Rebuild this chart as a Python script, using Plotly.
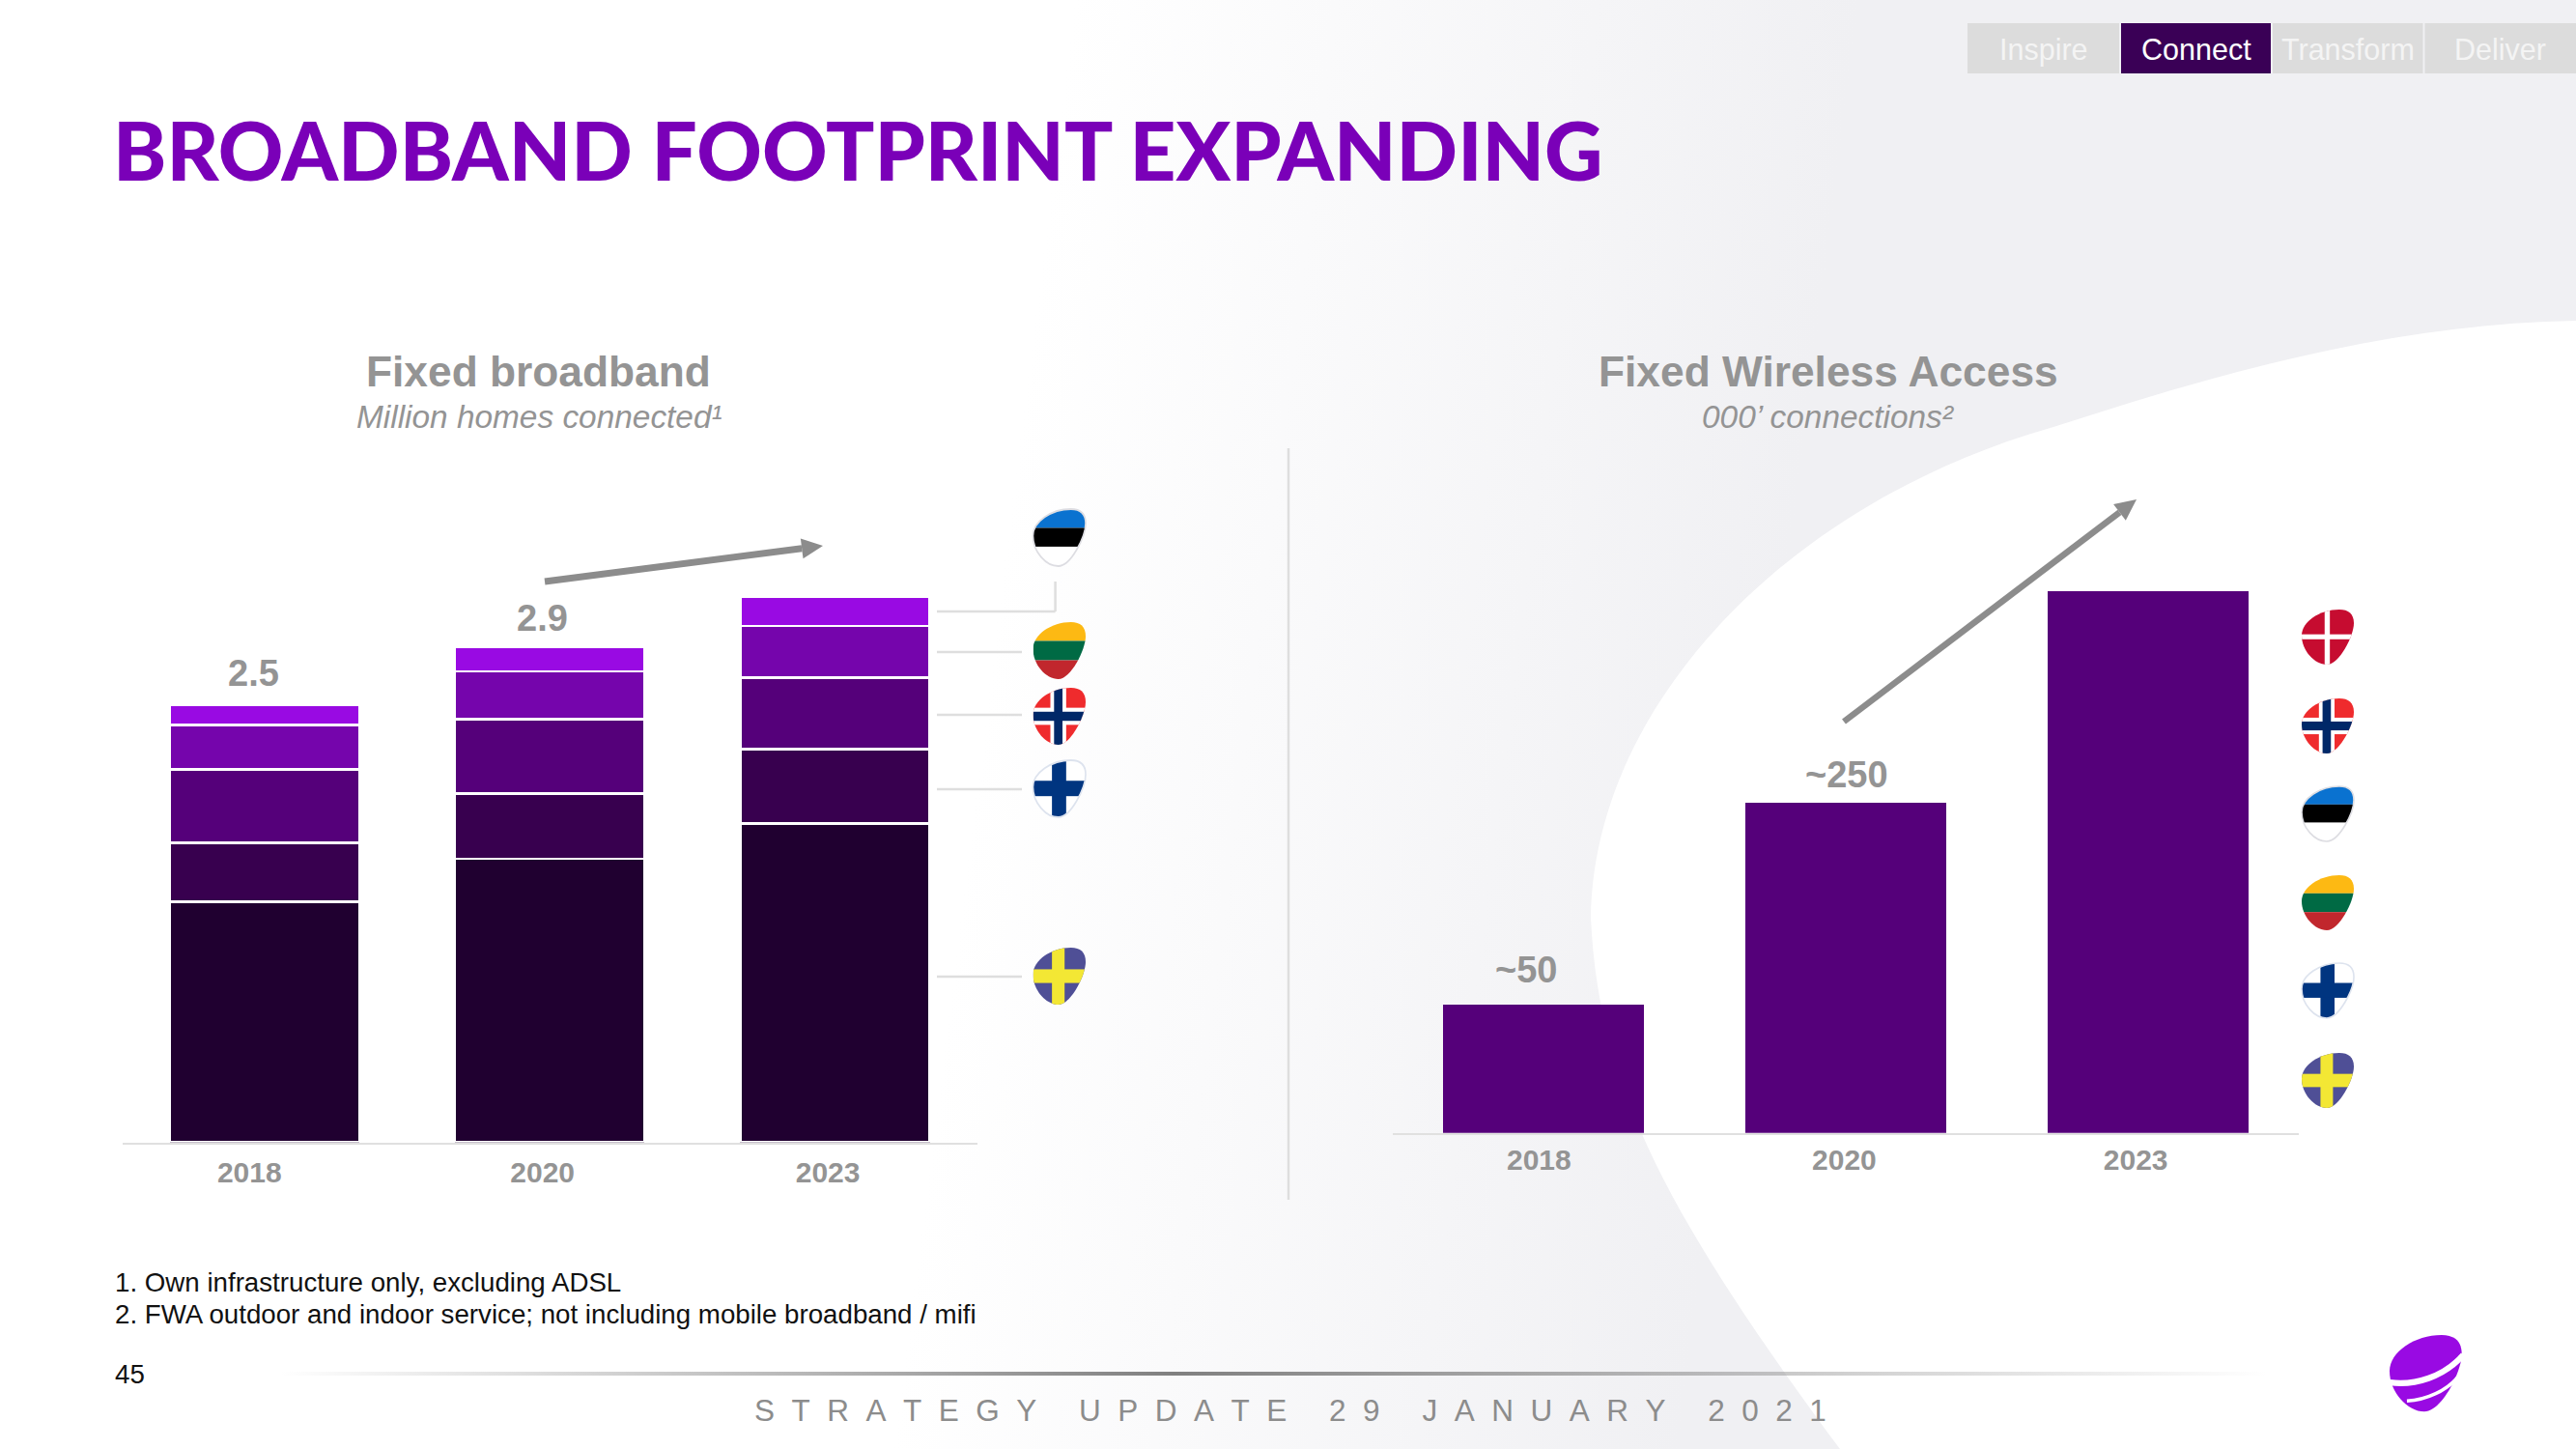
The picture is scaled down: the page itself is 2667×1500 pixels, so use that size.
import base64
import math
import plotly.graph_objects as go

W, H = 2667, 1500

# ---------- data ----------
years = ["2018", "2020", "2023"]
bar_index = [0, 1, 2]
sweden = [1.40, 1.65, 1.854]
finland = [0.343, 0.379, 0.433]
norway = [0.425, 0.433, 0.414]
lithuania = [0.258, 0.278, 0.302]
estonia = [0.116, 0.142, 0.167]
fixed_totals = ["2.5", "2.9", ""]
fwa_values = [98, 251, 412]
fwa_labels = ["~50", "~250", ""]
left_tick_pos = [-0.054, -0.026, -0.025]
right_tick_pos = [-0.016, -0.005, -0.04]
tabs = ["Inspire", "Connect", "Transform", "Deliver"]
footnotes = ["1. Own infrastructure only, excluding ADSL",
             "2. FWA outdoor and indoor service; not including mobile broadband / mifi"]

C_SWE, C_FIN, C_NOR, C_LIT, C_EST = "#200030", "#38004F", "#55007A", "#7505AC", "#990AE3"
GREY = "#949494"
FONT = "Liberation Sans"


def X(px):
    return px / W


def Y(py):
    return 1 - py / H


# ---------- decorative artwork (background, flags, logo) ----------
PEBBLE = "M72,0 C90,0 100,8 100,25 C100,48 72,100 48,100 C25,100 0,75 0,47 C0,22 35,0 72,0 Z"
_flag_id = [0]


def flag(kind, x, y, w, h):
    _flag_id[0] += 1
    cid = f"c{_flag_id[0]}"
    r = lambda a, b, c, d, col: f'<rect x="{a}" y="{b}" width="{c}" height="{d}" fill="{col}"/>'
    if kind == "EE":
        body = r(0, 0, 100, 33, "#0A72D0") + r(0, 33, 100, 33, "#000") + r(0, 66, 100, 34, "#fff")
        outline = "#DDDDE2"
    elif kind == "LT":
        body = r(0, 0, 100, 33, "#FDB913") + r(0, 33, 100, 34, "#006A44") + r(0, 67, 100, 33, "#C1272D")
        outline = None
    elif kind == "NO":
        body = (r(0, 0, 100, 100, "#EF2B2D") + r(33, 0, 30, 100, "#fff") + r(0, 35, 100, 30, "#fff")
                + r(40, 0, 16, 100, "#002868") + r(0, 42, 100, 16, "#002868"))
        outline = None
    elif kind == "FI":
        body = r(0, 0, 100, 100, "#fff") + r(36, 0, 27, 100, "#003580") + r(0, 36, 100, 27, "#003580")
        outline = "#DDE3EE"
    elif kind == "SE":
        body = r(0, 0, 100, 100, "#4F4F96") + r(36, 0, 24, 100, "#F3E734") + r(0, 38, 100, 24, "#F3E734")
        outline = None
    else:  # DK
        body = r(0, 0, 100, 100, "#C60C30") + r(44, 0, 10, 100, "#fff") + r(0, 45, 100, 9, "#fff")
        outline = None
    tr = f'translate({x},{y}) scale({w / 100},{h / 100})'
    s = f'<clipPath id="{cid}"><path d="{PEBBLE}"/></clipPath>'
    s += f'<g transform="{tr}"><g clip-path="url(#{cid})">{body}</g>'
    if outline:
        s += f'<path d="{PEBBLE}" fill="none" stroke="{outline}" stroke-width="3"/>'
    return s + "</g>"


left_flags = [("EE", 527), ("LT", 644), ("NO", 712), ("FI", 787), ("SE", 981)]
right_flags = [("DK", 631), ("NO", 723), ("EE", 814), ("LT", 906), ("FI", 997), ("SE", 1090)]
art = [f'<svg xmlns="http://www.w3.org/2000/svg" width="{W}" height="{H}" viewBox="0 0 {W} {H}">',
       '<defs><linearGradient id="bg" gradientUnits="userSpaceOnUse" x1="1000" y1="900" x2="1800" y2="1000">'
       '<stop offset="0" stop-color="#FFFFFF"/><stop offset="1" stop-color="#F0F0F3"/></linearGradient>'
       '<linearGradient id="rule"><stop offset="0" stop-color="#888" stop-opacity="0"/>'
       '<stop offset="0.45" stop-color="#808080"/><stop offset="1" stop-color="#888" stop-opacity="0"/>'
       '</linearGradient></defs>',
       f'<rect width="{W}" height="{H}" fill="url(#bg)"/>',
       f'<path d="M1905,1500 C1720,1250 1655,1120 1647,950 C1650,730 1850,520 2126,442 '
       f'C2300,385 2480,335 2667,332 L{W},{H} Z" fill="#fff"/>',
       '<rect x="290" y="1420" width="2057" height="4" fill="url(#rule)"/>']
for k, yy in left_flags:
    art.append(flag(k, 1069.5, yy, 54.5, 59))
for k, yy in right_flags:
    art.append(flag(k, 2383, yy, 54, 57))
art.append(f'<g transform="translate(2474,1382) scale(0.747,0.793)"><path d="{PEBBLE}" fill="#990AE3"/>'
           '<path d="M1,62 C35,66 75,55 102,26" fill="none" stroke="#fff" stroke-width="8"/>'
           '<path d="M24,86 C50,85 80,73 97,52" fill="none" stroke="#fff" stroke-width="4.5"/></g>')
art.append("</svg>")
art_uri = "data:image/svg+xml;base64," + base64.b64encode("".join(art).encode()).decode()

# ---------- figure ----------
fig = go.Figure()
series = [("Sweden", sweden, C_SWE), ("Finland", finland, C_FIN), ("Norway", norway, C_NOR),
          ("Lithuania", lithuania, C_LIT), ("Estonia", estonia, C_EST)]
for name, vals, col in series:
    fig.add_trace(go.Bar(x=bar_index, y=vals, name=name, marker=dict(color=col, line=dict(color="#FFFFFF", width=2.5)),
                         xaxis="x", yaxis="y"))
fig.add_trace(go.Bar(x=bar_index, y=fwa_values, name="FWA", marker=dict(color="#55007A", line=dict(width=0)),
                     xaxis="x2", yaxis="y2", width=0.666))

left_totals = [sum(v) for v in zip(sweden, finland, norway, lithuania, estonia)]
annotations = []


def text(t, x, y, size, color=GREY, bold=False, anchor="center", family=FONT, weight=None, italic=False):
    annotations.append(dict(text=t, x=X(x), y=Y(y), xref="paper", yref="paper", showarrow=False,
                            xanchor=anchor, yanchor="middle",
                            font=dict(family=family, size=size, color=color,
                                      weight=weight if weight else (700 if bold else 400),
                                      style="italic" if italic else "normal")))


for i, (lab, sh) in enumerate(zip(fixed_totals, [(-12, 33), (-8, 29), (0, 0)])):
    if lab:
        annotations.append(dict(text=lab, x=bar_index[i], y=left_totals[i], xref="x", yref="y", showarrow=False,
                                xshift=sh[0], yshift=sh[1], yanchor="middle",
                                font=dict(family=FONT, size=38, color=GREY, weight=700)))
for i, (lab, sh) in enumerate(zip(fwa_labels, [(-18, 36), (1, 29), (0, 0)])):
    if lab:
        annotations.append(dict(text=lab, x=bar_index[i], y=fwa_values[i], xref="x2", yref="y2", showarrow=False,
                                xshift=sh[0], yshift=sh[1], yanchor="middle",
                                font=dict(family=FONT, size=38, color=GREY, weight=700)))

text("BROADBAND FOOTPRINT EXPANDING", 115, 155, 83.5, color="#7A00B8", anchor="left", family="Lato", weight=900)
text("Fixed broadband", 557, 385, 44.3, bold=True)
text("Million homes connected¹", 558, 431, 33.4, italic=True)
text("Fixed Wireless Access", 1893, 385, 44.3, bold=True)
text("000’ connections²", 1893, 431, 33.4, italic=True)
text(footnotes[0], 116.5, 1327, 27.7, color="#111111", anchor="left")
text(footnotes[1], 116.5, 1360, 27.7, color="#111111", anchor="left")
text("45", 116.5, 1422, 27.7, color="#111111", anchor="left")
gap = "\u00a0\u00a0"
footer = ("\u00a0" * 5).join(gap.join(w) for w in ["STRATEGY", "UPDATE", "29", "JANUARY", "2021"])
text(footer, 1336, 1460, 31.5, color="#8C8C8C")

shapes = []
# nav tabs
tab_x = [(2037, 2194), (2196, 2351), (2353, 2508.5), (2510.5, 2667)]
for j, (t, (a, b)) in enumerate(zip(tabs, tab_x)):
    on = t == "Connect"
    shapes.append(dict(type="rect", xref="paper", yref="paper", x0=X(a), x1=X(b), y0=Y(76), y1=Y(24),
                       fillcolor="#3A0056" if on else "#DCDCDC", line=dict(width=0), layer="below"))
    text(t, (a + b) / 2, 51, 30.5, color="#FFFFFF" if on else "#F4F4F4")


def seg(x0, y0, x1, y1, col="#DEDEDE", w=2.5):
    shapes.append(dict(type="line", xref="paper", yref="paper", x0=X(x0), x1=X(x1), y0=Y(y0), y1=Y(y1),
                       line=dict(color=col, width=w)))


seg(1334, 464, 1334, 1242)
seg(970, 633, 1092.6, 633)
seg(1092.6, 633, 1092.6, 602)
for yy in (675, 740, 817, 1011):
    seg(970, yy, 1058, yy)


# trend arrows: shaft plus a small triangular head
def arrow(tail, head, width, hl=22, hw=21, col="#8C8C8C"):
    dx, dy = head[0] - tail[0], head[1] - tail[1]
    n = math.hypot(dx, dy)
    ux, uy = dx / n, dy / n
    bx, by = head[0] - ux * hl, head[1] - uy * hl
    seg(tail[0], tail[1], bx, by, col, width)
    p1 = (X(bx - uy * hw / 2), Y(by + ux * hw / 2))
    p2 = (X(bx + uy * hw / 2), Y(by - ux * hw / 2))
    tip = (X(head[0]), Y(head[1]))
    shapes.append(dict(type="path", xref="paper", yref="paper", line=dict(width=0), fillcolor=col,
                       path=f"M{tip[0]},{tip[1]} L{p1[0]},{p1[1]} L{p2[0]},{p2[1]} Z"))


arrow((564, 602), (852, 565), 7)
arrow((1909, 747), (2212, 517), 6.5)

axis_common = dict(showgrid=False, zeroline=False, showline=True, linecolor="#E0E0E0", linewidth=2,
                   tickmode="array", ticktext=years, tickcolor="rgba(0,0,0,0)",
                   tickfont=dict(family=FONT, size=30, color=GREY, weight=700), range=[-0.5, 2.5])
fig.update_layout(
    width=W, height=H, margin=dict(l=0, r=0, t=0, b=0), autosize=False,
    paper_bgcolor="#FFFFFF", plot_bgcolor="rgba(0,0,0,0)", showlegend=False,
    barmode="stack", bargap=0.335,
    xaxis=dict(domain=[X(126.7), X(1012)], anchor="y", ticks="outside", ticklen=3,
               tickvals=[b + o for b, o in zip(bar_index, left_tick_pos)], **axis_common),
    yaxis=dict(domain=[Y(1182.5), Y(500)], anchor="x", range=[0, 682.5 / 178], visible=False),
    xaxis2=dict(domain=[X(1442), X(2380)], anchor="y2", ticks="",
                tickvals=[b + o for b, o in zip(bar_index, right_tick_pos)], **axis_common),
    yaxis2=dict(domain=[Y(1172.8), Y(500)], anchor="x2", range=[0, 672.8 / 1.36], visible=False),
    annotations=annotations, shapes=shapes,
    images=[dict(source=art_uri, xref="paper", yref="paper", x=0, y=1, sizex=1, sizey=1,
                 xanchor="left", yanchor="top", sizing="stretch", layer="below")],
)
fig.write_html("out.html", config=dict(displayModeBar=False),
               post_script="document.body.style.margin='0';document.body.style.overflow='hidden';")
